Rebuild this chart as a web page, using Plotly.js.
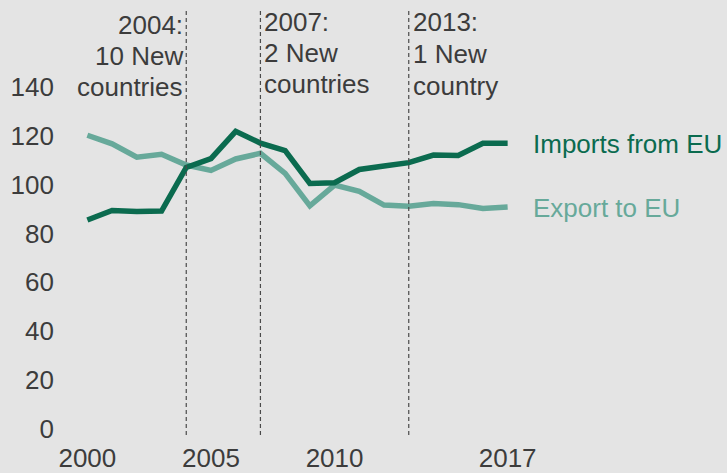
<!DOCTYPE html>
<html>
<head>
<meta charset="utf-8">
<script src="https://cdn.plot.ly/plotly-3.0.1.min.js"></script>
<style>html,body{margin:0;padding:0;background:#e4e4e4;}#chart{width:727px;height:473px;}</style>
</head>
<body>
<div id="chart"></div>
<script>
const years = [2000,2001,2002,2003,2004,2005,2006,2007,2008,2009,2010,2011,2012,2013,2014,2015,2016,2017];
const importsFromEU = [85.5,89.4,89.0,89.2,107.0,110.6,121.8,117.0,113.9,100.5,100.8,106.2,107.6,109.0,112.1,111.9,116.9,116.9];
const exportToEU   = [120.2,116.7,111.2,112.4,108.0,105.8,110.5,112.8,104.6,91.3,99.8,97.2,91.6,91.1,92.3,91.8,90.2,90.8];
const seriesNames = ['Imports from EU','Export to EU'];
const enlargementYears = [2004,2007,2013];
const enlargementLabels = [
  ['2004:','10 New','countries'],
  ['2007:','2 New','countries'],
  ['2013:','1 New','country']
];
const xTickVals = [2000,2005,2010,2017];
const yTickVals = [0,20,40,60,80,100,120,140];

const DARK = '#0b6b4f', LIGHT = '#67a99a', TEXT = '#3c3c3c', BG = '#e4e4e4';
const FONT = '"Liberation Sans", Arial, sans-serif';
const H = 473, MT = 82, MB = 38, PH = H - MT - MB;
const paperY = py => (H - MB - py) / PH;

const traces = [
  {x: years, y: exportToEU, name: seriesNames[1], mode: 'lines',
   line: {color: LIGHT, width: 5.5}, hoverinfo: 'skip'},
  {x: years, y: importsFromEU, name: seriesNames[0], mode: 'lines',
   line: {color: DARK, width: 5.5}, hoverinfo: 'skip'}
];

const shapes = enlargementYears.map(yr => ({
  type: 'line', xref: 'x', yref: 'paper', x0: yr, x1: yr,
  y0: 0, y1: paperY(10), line: {color: '#4a4a4a', width: 1.2, dash: '4px,3px'}
}));

const annotations = [];
const lineYs = [[25,56,87],[22,53,84],[22,54,86]];
enlargementLabels.forEach((lines, i) => {
  const right = i === 0;
  lines.forEach((t, j) => {
    annotations.push({
      xref: 'x', yref: 'paper', x: enlargementYears[i], y: paperY(lineYs[i][j]),
      text: t, showarrow: false, xanchor: right ? 'right' : 'left', yanchor: 'middle',
      xshift: right ? -1 : 2, font: {family: FONT, size: 26, color: TEXT}
    });
  });
});
const last = years.length - 1;
annotations.push({xref: 'x', yref: 'y', x: years[last], y: importsFromEU[last], text: seriesNames[0],
  showarrow: false, xanchor: 'left', yanchor: 'middle', xshift: 23, yshift: -1,
  font: {family: FONT, size: 26, color: DARK}});
annotations.push({xref: 'x', yref: 'y', x: years[last], y: exportToEU[last], text: seriesNames[1],
  showarrow: false, xanchor: 'left', yanchor: 'middle', xshift: 23, yshift: -1,
  font: {family: FONT, size: 26, color: LIGHT}});

const layout = {
  width: 727, height: 473,
  margin: {l: 75, r: 207, t: MT, b: MB, pad: 0},
  paper_bgcolor: BG, plot_bgcolor: BG,
  showlegend: false,
  font: {family: FONT, size: 26, color: TEXT},
  xaxis: {range: [1999.5, 2017.5], tickvals: xTickVals, ticktext: xTickVals.map(String),
    showgrid: false, zeroline: false, showline: false, ticks: '', ticklabelstandoff: 5,
    tickfont: {family: FONT, size: 26, color: TEXT}, fixedrange: true},
  yaxis: {range: [-2.5, 142], tickvals: yTickVals, ticktext: yTickVals.map(String),
    showgrid: false, zeroline: false, showline: false, ticks: '', ticklabelstandoff: 20,
    tickfont: {family: FONT, size: 26, color: TEXT}, fixedrange: true},
  shapes: shapes,
  annotations: annotations
};

Plotly.newPlot('chart', traces, layout, {displayModeBar: false, staticPlot: true});
</script>
</body>
</html>
